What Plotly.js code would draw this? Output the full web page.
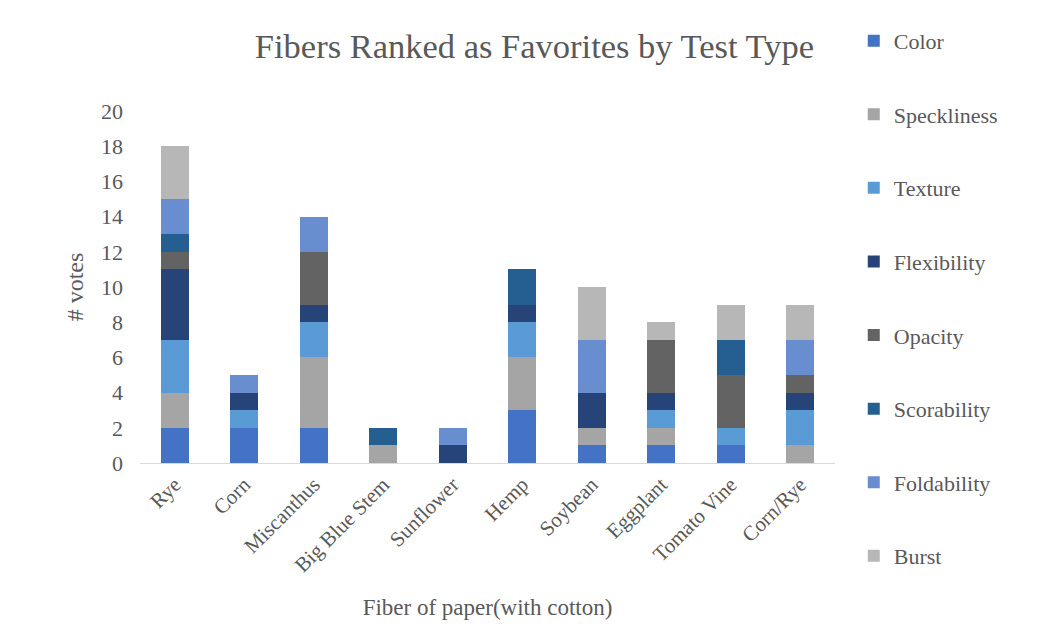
<!DOCTYPE html>
<html>
<head>
<meta charset="utf-8">
<script src="https://cdn.plot.ly/plotly-3.0.1.min.js"></script>
<style>html,body{margin:0;padding:0;background:#fff;}#chart{width:1048px;height:626px;}</style>
</head>
<body>
<div id="chart"></div>
<script>
const fibers = ["Rye", "Corn", "Miscanthus", "Big Blue Stem", "Sunflower", "Hemp", "Soybean", "Eggplant", "Tomato Vine", "Corn/Rye"];
const color        = [2, 2, 2, 0, 0, 3, 1, 1, 1, 0];
const speckliness  = [2, 0, 4, 1, 0, 3, 1, 1, 0, 1];
const texture      = [3, 1, 2, 0, 0, 2, 0, 1, 1, 2];
const flexibility  = [4, 1, 1, 0, 1, 1, 2, 1, 0, 1];
const opacity      = [1, 0, 3, 0, 0, 0, 0, 3, 3, 1];
const scorability  = [1, 0, 0, 1, 0, 2, 0, 0, 2, 0];
const foldability  = [2, 1, 2, 0, 1, 0, 3, 0, 0, 2];
const burst        = [3, 0, 0, 0, 0, 0, 3, 1, 2, 2];

const seriesNames = ["Color", "Speckliness", "Texture", "Flexibility", "Opacity", "Scorability", "Foldability", "Burst"];
const seriesValues = [color, speckliness, texture, flexibility, opacity, scorability, foldability, burst];
const seriesColors = ["#4472C4", "#A5A5A5", "#5B9BD5", "#264478", "#636363", "#255E91", "#698ED0", "#B7B7B7"];

const traces = seriesNames.map((name, i) => ({
  type: "bar",
  name: name,
  x: fibers,
  y: seriesValues[i],
  marker: {color: seriesColors[i], line: {width: 0}},
  legendgroup: "g" + i,
  hoverinfo: "x+y+name"
}));

const serif = "Liberation Serif";
const layout = {
  width: 1048,
  height: 626,
  paper_bgcolor: "#ffffff",
  plot_bgcolor: "#ffffff",
  barmode: "stack",
  bargap: 0.6,
  margin: {l: 140, r: 213, t: 111, b: 163},
  font: {family: serif, color: "#595959"},
  title: {
    text: "Fibers Ranked as Favorites by Test Type",
    font: {family: serif, size: 34.5, color: "#595959"},
    x: 0.51, xanchor: "center", y: 0.927, yanchor: "middle"
  },
  xaxis: {
    type: "category",
    tickangle: -45,
    tickfont: {family: serif, size: 21, color: "#595959"},
    showgrid: false,
    showline: true,
    linecolor: "#D9D9D9",
    linewidth: 1,
    ticks: "",
    zeroline: false,
    title: {text: "Fiber of paper(with cotton)", font: {family: serif, size: 23, color: "#595959"}, standoff: 22}
  },
  yaxis: {
    range: [0, 20],
    dtick: 2,
    tickfont: {family: serif, size: 22, color: "#595959"},
    ticklabelstandoff: 16,
    showgrid: false,
    showline: false,
    zeroline: false,
    ticks: "",
    ticklen: 0,
    title: {text: "# votes", font: {family: serif, size: 24, color: "#595959"}, standoff: 10}
  },
  showlegend: true,
  legend: {
    x: 1.027, xanchor: "left",
    y: 1.259, yanchor: "top",
    traceorder: "grouped",
    tracegroupgap: 42,
    maxheight: 1,
    font: {family: serif, size: 22, color: "#595959"},
    itemwidth: 30,
    bgcolor: "rgba(0,0,0,0)"
  }
};

Plotly.newPlot("chart", traces, layout, {displayModeBar: false, staticPlot: true});
</script>
</body>
</html>
